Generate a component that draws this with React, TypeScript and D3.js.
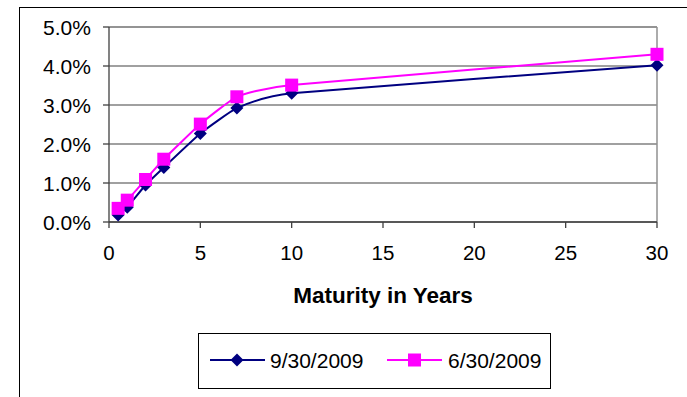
import React from "react";
import * as d3 from "d3";

const maturities = [0.5, 1, 2, 3, 5, 7, 10, 30];
const sepValues = [0.18, 0.38, 0.95, 1.4, 2.27, 2.92, 3.3, 4.02];
const junValues = [0.35, 0.56, 1.09, 1.61, 2.51, 3.21, 3.51, 4.3];
const xTicks = [0, 5, 10, 15, 20, 25, 30];
const yTicks = [0, 1, 2, 3, 4, 5];
const seriesNames = ["9/30/2009", "6/30/2009"];
const xTitle = "Maturity in Years";

const W = 687;
const H = 397;
const left = 109;
const right = 657;
const top = 27;
const bottom = 222;
const FONT = "Arial, 'Liberation Sans', sans-serif";
const NAVY = "#000080";
const PINK = "#FF00FF";

export default function App() {
  const x = d3.scaleLinear().domain([0, 30]).range([left, right]);
  const y = d3.scaleLinear().domain([0, 5]).range([bottom, top]);
  const line = d3
    .line<[number, number]>()
    .x((d) => x(d[0]))
    .y((d) => y(d[1]))
    .curve(d3.curveCardinal.tension(0.6));
  const sep: [number, number][] = maturities.map((m, i) => [m, sepValues[i]]);
  const jun: [number, number][] = maturities.map((m, i) => [m, junValues[i]]);

  const diamond = (cx: number, cy: number, r = 6.5) =>
    `M${cx},${cy - r}L${cx + r},${cy}L${cx},${cy + r}L${cx - r},${cy}Z`;

  return (
    <svg
      width={W}
      height={H}
      style={{ position: "absolute", left: 0, top: 0 }}
      fontFamily={FONT}
    >
      <rect x={0} y={0} width={W} height={H} fill="#fff" />
      <rect x={19.5} y={7.5} width={W + 20} height={H + 20} fill="none" stroke="#000" strokeWidth={1} />
      {yTicks.map((t) => (
        <line key={t} x1={left} x2={right} y1={y(t)} y2={y(t)} stroke="#808080" strokeWidth={1.3} />
      ))}
      <line x1={right} x2={right} y1={top} y2={bottom} stroke="#909090" strokeWidth={1.5} />
      <line x1={left} x2={right} y1={top} y2={top} stroke="#909090" strokeWidth={1.5} />
      <line x1={left} x2={left} y1={top} y2={bottom} stroke="#404040" strokeWidth={1.3} />
      <line x1={left} x2={right} y1={bottom} y2={bottom} stroke="#404040" strokeWidth={1.3} />
      {yTicks.map((t) => (
        <g key={t}>
          <line x1={left - 6} x2={left} y1={y(t)} y2={y(t)} stroke="#404040" strokeWidth={1.3} />
          <text x={91} y={y(t) + 7.5} textAnchor="end" fontSize={21} fill="#000">
            {t.toFixed(1)}%
          </text>
        </g>
      ))}
      {xTicks.map((t) => (
        <g key={t}>
          <line x1={x(t)} x2={x(t)} y1={bottom} y2={bottom + 6} stroke="#404040" strokeWidth={1.3} />
          <text x={x(t)} y={260} textAnchor="middle" fontSize={20.5} fill="#000">
            {t}
          </text>
        </g>
      ))}
      <text x={(left + right) / 2} y={303} textAnchor="middle" fontSize={22.5} fontWeight="bold" fill="#000">
        {xTitle}
      </text>
      <path d={line(sep) || ""} fill="none" stroke={NAVY} strokeWidth={2} />
      <path d={line(jun) || ""} fill="none" stroke={PINK} strokeWidth={2} />
      {sep.map((d, i) => (
        <path key={"s" + i} d={diamond(x(d[0]), y(d[1]))} fill={NAVY} />
      ))}
      {jun.map((d, i) => (
        <rect key={"j" + i} x={x(d[0]) - 6.5} y={y(d[1]) - 6.5} width={13} height={13} fill={PINK} />
      ))}
      <rect x={198.5} y={333.5} width={352} height={55} fill="#fff" stroke="#000" strokeWidth={1} />
      <line x1={210} x2={265} y1={360} y2={360} stroke={NAVY} strokeWidth={2} />
      <path d={diamond(237, 360)} fill={NAVY} />
      <text x={270} y={367.5} fontSize={21} fill="#000">
        {seriesNames[0]}
      </text>
      <line x1={387} x2={442} y1={360} y2={360} stroke={PINK} strokeWidth={2} />
      <rect x={408} y={353.5} width={13} height={13} fill={PINK} />
      <text x={448} y={367.5} fontSize={21} fill="#000">
        {seriesNames[1]}
      </text>
    </svg>
  );
}
